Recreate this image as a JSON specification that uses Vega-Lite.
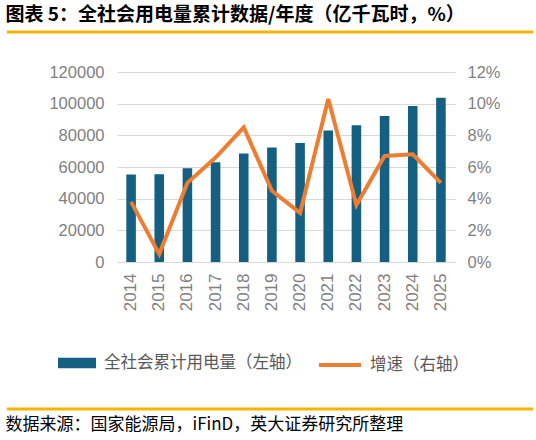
{
  "$schema": "https://vega.github.io/schema/vega-lite/v6.json",
  "background": "white",
  "padding": 5,
  "datasets": {
    "power": [
      {"year": "2014", "consumption": 55233, "growth": 3.8},
      {"year": "2015", "consumption": 55500, "growth": 0.5},
      {"year": "2016", "consumption": 59198, "growth": 5.0},
      {"year": "2017", "consumption": 63077, "growth": 6.6},
      {"year": "2018", "consumption": 68449, "growth": 8.5},
      {"year": "2019", "consumption": 72255, "growth": 4.5},
      {"year": "2020", "consumption": 75110, "growth": 3.1},
      {"year": "2021", "consumption": 83128, "growth": 10.3},
      {"year": "2022", "consumption": 86372, "growth": 3.6},
      {"year": "2023", "consumption": 92241, "growth": 6.7},
      {"year": "2024", "consumption": 98521, "growth": 6.8},
      {"year": "2025", "consumption": 103682, "growth": 5.0}
    ]
  },
  "spacing": 0,
  "vconcat": [
    {
      "width": 526,
      "height": 32,
      "title": {
        "text": "图表 5：全社会用电量累计数据/年度（亿千瓦时，%）",
        "anchor": "start",
        "font": "Noto Sans CJK SC",
        "fontSize": 19,
        "fontWeight": "bold",
        "color": "#000000",
        "offset": 6
      },
      "data": {"values": [{"v": 1}]},
      "mark": {"type": "rule", "color": "#F5B400", "strokeWidth": 3},
      "encoding": {
        "y": {"field": "v", "type": "quantitative", "scale": {"domain": [0, 1]}, "axis": null}
      }
    },
    {
      "spacing": 0,
      "hconcat": [
        {
          "width": 40,
          "height": 190,
          "data": {"values": []},
          "mark": {"type": "point", "opacity": 0},
          "encoding": {}
        },
        {
          "width": 338,
          "height": 190,
          "data": {"name": "power"},
          "layer": [
            {
              "mark": {"type": "bar"},
              "encoding": {
                "x": {
                  "field": "year",
                  "type": "ordinal",
                  "scale": {"paddingInner": 0.66, "paddingOuter": 0.33},
                  "axis": {
                    "title": null,
                    "labelAngle": -90,
                    "labelPadding": 11,
                    "ticks": false,
                    "tickSize": 0,
                    "domainColor": "#d9d9d9",
                    "labelFontSize": 17,
                    "labelColor": "#7f7f7f"
                  }
                },
                "y": {
                  "field": "consumption",
                  "type": "quantitative",
                  "scale": {"domain": [0, 120000]},
                  "axis": {
                    "title": null,
                    "orient": "left",
                    "values": [0, 20000, 40000, 60000, 80000, 100000, 120000],
                    "format": "d",
                    "domain": false,
                    "ticks": false,
                    "tickSize": 0,
                    "labelPadding": 13,
                    "minExtent": 70,
                    "grid": true,
                    "gridColor": "#d9d9d9",
                    "labelFontSize": 16.5,
                    "labelColor": "#7f7f7f"
                  }
                },
                "color": {
                  "datum": "全社会累计用电量（左轴）",
                  "type": "nominal",
                  "scale": {"range": ["#155F82"]},
                  "legend": {
                    "title": null,
                    "orient": "none",
                    "legendX": 50,
                    "legendY": 311,
                    "symbolType": "M-1,-0.28H1V0.28H-1Z",
                    "symbolSize": 1444,
                    "symbolOpacity": 1,
                    "labelFont": "Noto Sans CJK SC",
                    "labelFontSize": 16.5,
                    "labelColor": "#595959",
                    "labelOffset": 7,
                    "labelLimit": 300
                  }
                }
              }
            },
            {
              "mark": {"type": "line", "strokeWidth": 4},
              "encoding": {
                "x": {"field": "year", "type": "ordinal"},
                "y": {
                  "field": "growth",
                  "type": "quantitative",
                  "scale": {"domain": [0, 12]},
                  "axis": {
                    "title": null,
                    "orient": "right",
                    "values": [0, 2, 4, 6, 8, 10, 12],
                    "labelExpr": "datum.value + '%'",
                    "domain": false,
                    "ticks": false,
                    "tickSize": 0,
                    "labelPadding": 12,
                    "grid": false,
                    "labelFontSize": 16.5,
                    "labelColor": "#7f7f7f"
                  }
                },
                "stroke": {
                  "datum": "增速（右轴）",
                  "type": "nominal",
                  "scale": {"range": ["#ED7D31"]},
                  "legend": {
                    "title": null,
                    "orient": "none",
                    "legendX": 310,
                    "legendY": 310,
                    "symbolType": "stroke",
                    "symbolSize": 1764,
                    "symbolStrokeWidth": 4,
                    "labelFont": "Noto Sans CJK SC",
                    "labelFontSize": 16.5,
                    "labelColor": "#595959",
                    "labelOffset": 7,
                    "labelLimit": 300
                  }
                }
              }
            }
          ],
          "resolve": {"scale": {"y": "independent"}}
        }
      ]
    },
    {
      "width": 526,
      "height": 98,
      "title": {
        "text": "数据来源：国家能源局，iFinD，英大证券研究所整理",
        "orient": "bottom",
        "anchor": "start",
        "font": "Noto Sans CJK SC",
        "fontSize": 17,
        "fontWeight": "normal",
        "color": "#000000",
        "offset": 6
      },
      "data": {"values": [{"v": 0}]},
      "mark": {"type": "rule", "color": "#F5B400", "strokeWidth": 3},
      "encoding": {
        "y": {"field": "v", "type": "quantitative", "scale": {"domain": [0, 1]}, "axis": null}
      }
    }
  ],
  "config": {
    "view": {"stroke": null},
    "axis": {"labelFont": "Liberation Sans"}
  }
}
